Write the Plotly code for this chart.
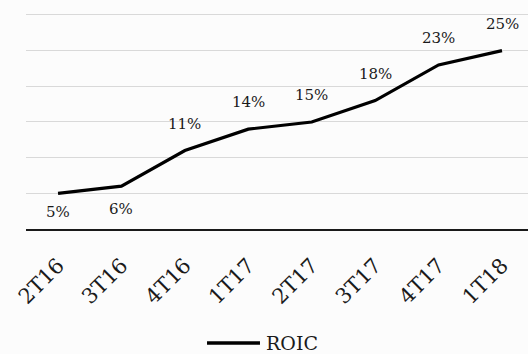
import plotly.graph_objects as go

quarters = ["2T16", "3T16", "4T16", "1T17", "2T17", "3T17", "4T17", "1T18"]
roic = [5, 6, 11, 14, 15, 18, 23, 25]
# vertical offset (px) of each value label from its point
label_shift = [-19, -23, 27, 27, 27, 27, 27, 27]

SERIF = "DejaVu Serif"

fig = go.Figure()
fig.add_trace(go.Scatter(
    x=quarters, y=roic,
    mode="lines",
    line=dict(color="#000000", width=3.2),
    showlegend=False,
))

for q, v, s in zip(quarters, roic, label_shift):
    fig.add_annotation(x=q, y=v, text=f"{v}%", yshift=s,
                       showarrow=False, xanchor="center", yanchor="middle",
                       font=dict(family=SERIF, size=15, color="#1a1a1a"))

# legend key drawn below the axis labels
fig.add_shape(type="line", xref="paper", yref="paper",
              x0=0.3606, x1=0.4661, y0=-0.5089, y1=-0.5089,
              line=dict(color="#000000", width=3.5))
fig.add_annotation(text="ROIC", xref="paper", yref="paper",
                   x=0.4741, y=-0.5089, xanchor="left", yanchor="middle",
                   showarrow=False,
                   font=dict(family=SERIF, size=19, color="#1a1a1a"))

fig.update_layout(
    width=528, height=354,
    margin=dict(l=26, r=0, t=5, b=125),
    paper_bgcolor="#fcfcfc", plot_bgcolor="#fcfcfc",
    showlegend=False,
)
fig.update_xaxes(
    type="category", range=[-0.505, 7.41],
    showgrid=False, zeroline=False,
    showline=True, linecolor="#1a1a1a", linewidth=1.6,
    tickangle=-45, ticks="", ticklabelstandoff=14,
    tickfont=dict(family=SERIF, size=21, color="#1a1a1a"),
)
fig.update_yaxes(
    range=[0, 31.4], dtick=5, showticklabels=False,
    showgrid=True, gridcolor="#d9d9d9", gridwidth=1.2,
    zeroline=False, showline=False,
)

fig.write_html("out.html")
